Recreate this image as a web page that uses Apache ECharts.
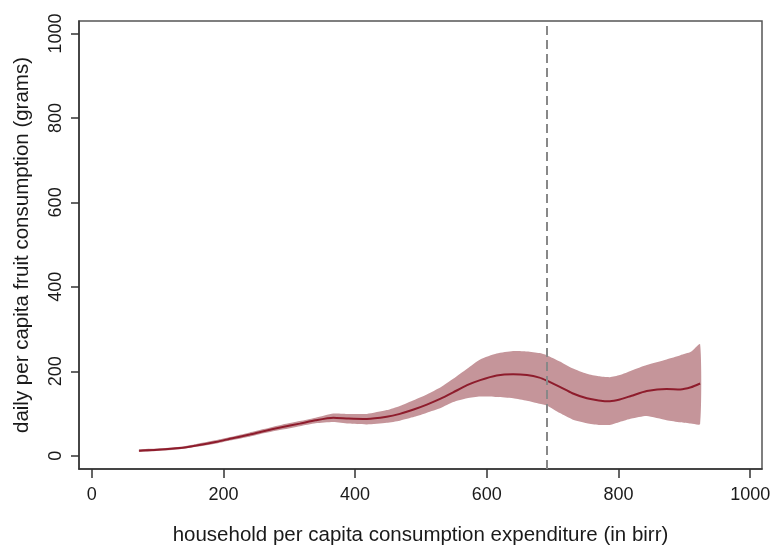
<!DOCTYPE html>
<html>
<head>
<meta charset="utf-8">
<script src="https://cdn.jsdelivr.net/npm/echarts@6/dist/echarts.min.js"></script>
<style>
  html, body { margin: 0; padding: 0; background: #fff; }
  #chart { width: 774px; height: 545px; }
</style>
</head>
<body>
<div id="chart"></div>
<script>
// Household per capita consumption expenditure (birr)
const expenditure = [72, 100, 134, 159, 190, 210, 240, 261, 290, 316, 340, 367, 390, 418, 448, 468, 490, 509, 530, 549, 570, 590, 615, 640, 661, 680, 691, 711, 730, 752, 770, 787, 802, 820, 843, 873, 894, 910, 924];
// Fitted daily per capita fruit consumption (grams)
const fitted = [12, 14, 18, 24, 33, 40, 50, 58, 68, 76, 84, 90, 88, 87, 92, 99, 110, 121, 135, 150, 167, 179, 190, 193, 191, 185, 178, 163, 148, 136, 131, 129, 133, 142, 153, 158, 157, 162, 171];
// Confidence band, lower and upper bounds
const lowerBound = [9, 11, 15, 21, 29, 36, 45, 53, 62, 70, 77, 80, 76, 74, 78, 83, 92, 102, 113, 127, 136, 140, 139, 136, 130, 123, 119, 101, 86, 77, 73, 73, 80, 88, 94, 84, 79, 76, 75];
const upperBound = [15, 17, 21, 28, 37, 44, 55, 63, 74, 82, 90, 100, 99, 99, 108, 118, 132, 145, 162, 182, 206, 228, 242, 248, 247, 243, 238, 223, 207, 194, 188, 186, 191, 202, 215, 228, 238, 246, 264];
// Reference expenditure level marked with a dashed line
const cutoffExpenditure = 691;

const xTicks = [0, 200, 400, 600, 800, 1000];
const yTicks = [0, 200, 400, 600, 800, 1000];

const fittedLine = expenditure.map((x, i) => [x, fitted[i]]);
const bandData = expenditure.map((x, i) => [x, lowerBound[i], upperBound[i]]);

const textColor = '#1a1a1a';
const fontFamily = '"Liberation Sans", Arial, sans-serif';

// Shaded confidence band: one polygon running along the upper bound and back along the lower bound
function renderBand(params, api) {
  if (params.dataIndex !== 0) return null;
  const upper = expenditure.map((x, i) => api.coord([x, upperBound[i]]));
  const lower = expenditure.map((x, i) => api.coord([x, lowerBound[i]])).reverse();
  return {
    type: 'polygon',
    shape: { points: upper.concat(lower), smooth: 0.2 },
    style: { fill: '#c5959a', stroke: null }
  };
}

const chart = echarts.init(document.getElementById('chart'), null, { renderer: 'canvas' });
chart.setOption({
  animation: false,
  backgroundColor: '#fff',
  grid: {
    left: 79, top: 21, right: 12, bottom: 76,
    containLabel: false, outerBoundsMode: 'none',
    show: true, borderColor: '#555', borderWidth: 1.5, backgroundColor: '#fff'
  },
  xAxis: {
    type: 'value',
    min: -19.3, max: 1018,
    name: 'household per capita consumption expenditure (in birr)',
    nameLocation: 'middle', nameGap: 56,
    nameTextStyle: { color: textColor, fontSize: 20.5, fontFamily: fontFamily },
    axisLine: { show: true, onZero: false, lineStyle: { color: '#333', width: 1.5 } },
    axisTick: { show: true, length: 9, customValues: xTicks, lineStyle: { color: '#333', width: 1.5 } },
    axisLabel: {
      customValues: xTicks, margin: 17, color: textColor, fontSize: 18, fontFamily: fontFamily,
      formatter: v => String(v)
    },
    splitLine: { show: false }
  },
  yAxis: {
    type: 'value',
    min: -31.5, max: 1029.6,
    name: 'daily per capita fruit consumption (grams)',
    nameLocation: 'middle', nameGap: 46,
    nameTextStyle: { color: textColor, fontSize: 20.5, fontFamily: fontFamily },
    axisLine: { show: true, onZero: false, lineStyle: { color: '#333', width: 1.5 } },
    axisTick: { show: true, length: 8, customValues: yTicks, lineStyle: { color: '#333', width: 1.5 } },
    axisLabel: {
      customValues: yTicks, rotate: 90, margin: 14, color: textColor, fontSize: 18, fontFamily: fontFamily,
      formatter: v => String(v)
    },
    splitLine: { show: false }
  },
  series: [
    {
      type: 'custom', data: bandData, renderItem: renderBand, silent: true,
      encode: { x: 0, y: [1, 2] }
    },
    {
      type: 'line', data: fittedLine, symbol: 'none', silent: true, smooth: 0.2,
      lineStyle: { color: '#8e1c2c', width: 2 },
      markLine: {
        silent: true, symbol: 'none', label: { show: false },
        lineStyle: { color: '#888', width: 2, type: [9, 5] },
        data: [{ xAxis: cutoffExpenditure }]
      }
    }
  ]
});
</script>
</body>
</html>
